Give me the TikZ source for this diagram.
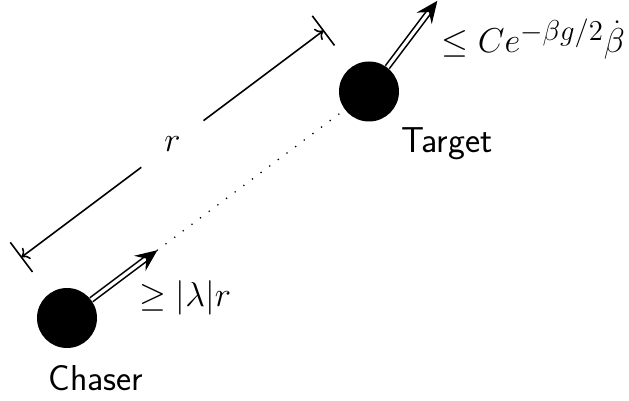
\documentclass[tikz,border=0pt]{standalone}
\usetikzlibrary{arrows.meta}
\begin{document}
\begin{tikzpicture}[x=0.5pt,y=-0.5pt,
  ball/.style={circle,fill=black,minimum size=30pt,inner sep=0pt},
  dblarrow/.style={double,line width=0.8pt,double distance=1.6pt,-{Stealth[length=11pt,width=9.5pt,inset=4pt]}},
  dimline/.style={line width=0.8pt,-{To[length=3.5pt,width=7pt]}},
  tickline/.style={line width=0.8pt},
  dotline/.style={line width=0.9pt,line cap=round,dash pattern=on 0pt off 5.4pt},
  gapnode/.style={circle,minimum size=38.5pt,inner sep=0pt},
  mathlbl/.style={inner sep=0pt,font=\fontsize{19}{23}\selectfont},
  sflbl/.style={inner sep=0pt,font=\fontsize{18}{22}\selectfont\sffamily}]
\useasboundingbox (0,0) rectangle (629,401);
% bodies
\node[ball] (chaser) at (67,318) {};
\node[ball] (target) at (369,91.5) {};
% arrow tips / coordinates
\coordinate (chtip) at (157.4,250.2);
\coordinate (tgtip) at (437.4,0.8);
\coordinate (dimL) at (21.4,257.2);
\coordinate (dimR) at (323.4,30.7);
\coordinate (tlA) at (10.3,242.4);
\coordinate (tlB) at (32.5,272);
\coordinate (trA) at (312.3,15.9);
\coordinate (trB) at (334.5,45.5);
% dimension line
\node[gapnode,mathlbl] (rlab) at (172.4,144) {$r$};
\draw[dimline] (rlab) -- (dimL);
\draw[dimline] (rlab) -- (dimR);
\draw[tickline] (tlA) -- (tlB);
\draw[tickline] (trA) -- (trB);
% velocities
\draw[dblarrow] (chaser) -- (chtip);
\draw[dblarrow] (target) -- (tgtip);
\draw[dotline] (chtip) -- (target);
% labels
\node[mathlbl,anchor=base west] (chv) at (139,307) {$\geq|\lambda|r$};
\node[mathlbl,anchor=base west] (tgv) at (441,53) {$\leq Ce^{-\beta g/2}\dot\beta$};
\node[sflbl,anchor=base west] (tgname) at (401,153) {Target};
\node[sflbl,anchor=base west] (chname) at (48,391) {Chaser};
\end{tikzpicture}
\end{document}
